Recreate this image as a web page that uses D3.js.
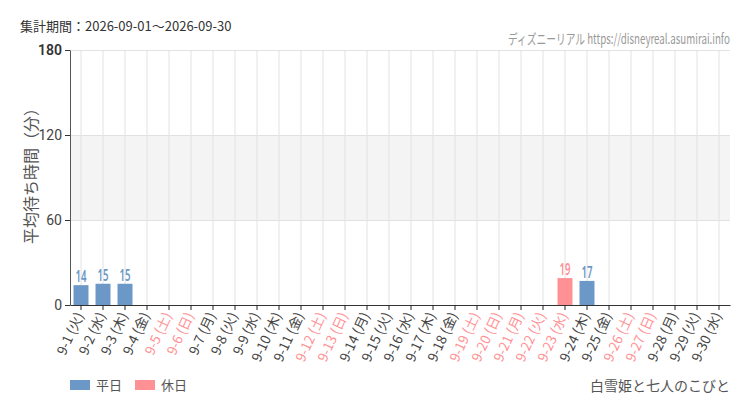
<!DOCTYPE html>
<html><head><meta charset="utf-8">
<script src="https://cdn.jsdelivr.net/npm/d3@7"></script>
<style>
body{margin:0;background:#fff;}
svg{display:block;font-family:"Noto Sans CJK JP","Noto Sans",sans-serif;}
</style></head>
<body><svg id="c" width="750" height="410"></svg>
<script>
const days = ["9-1 (火)","9-2 (水)","9-3 (木)","9-4 (金)","9-5 (土)","9-6 (日)","9-7 (月)","9-8 (火)","9-9 (水)","9-10 (木)","9-11 (金)","9-12 (土)","9-13 (日)","9-14 (月)","9-15 (火)","9-16 (水)","9-17 (木)","9-18 (金)","9-19 (土)","9-20 (日)","9-21 (月)","9-22 (火)","9-23 (水)","9-24 (木)","9-25 (金)","9-26 (土)","9-27 (日)","9-28 (月)","9-29 (火)","9-30 (水)"];
const holiday = [0,0,0,0,1,1,0,0,0,0,0,1,1,0,0,0,0,0,1,1,1,1,1,0,0,1,1,0,0,0];
const waits = [14,15,15,null,null,null,null,null,null,null,null,null,null,null,null,null,null,null,null,null,null,null,19,17,null,null,null,null,null,null];
const yTicks = [0,60,120,180];

const W_COLOR = "#6b98c6", H_COLOR = "#ff9194";
const svg = d3.select("#c");
const L = 70, R = 730, T = 50, B = 305;
const x = d3.scaleBand().domain(days).range([L, R]).paddingInner(0.32).paddingOuter(0.16);
const xc = d => x(d) + x.bandwidth()/2;
const y = d3.scaleLinear().domain([0,180]).range([B, T]);

function condense(sel, target){
  sel.each(function(){
    const len = this.getComputedTextLength();
    const s = target/len;
    const tx = +this.getAttribute("x"), ty = +this.getAttribute("y");
    d3.select(this).attr("transform", `translate(${tx},${ty}) scale(${s},1) translate(${-tx},${-ty})`);
  });
}

// band
svg.append("rect").attr("x", L).attr("y", y(120)).attr("width", R-L).attr("height", y(60)-y(120)).attr("fill", "#f4f4f4");
// vertical grid
svg.append("g").selectAll("line").data(days).join("line")
  .attr("x1", d=>xc(d)).attr("x2", d=>xc(d)).attr("y1", T).attr("y2", B)
  .attr("stroke", "#e2e2e2").attr("stroke-width", 1);
// horizontal grid
svg.append("g").selectAll("line").data(yTicks.filter(v=>v>0)).join("line")
  .attr("x1", L).attr("x2", R).attr("y1", d=>y(d)+0.5).attr("y2", d=>y(d)+0.5)
  .attr("stroke", "#e2e2e2");

// bars
const data = days.map((d,i)=>({d, v: waits[i], h: holiday[i]})).filter(o=>o.v!=null);
svg.append("g").selectAll("rect").data(data).join("rect")
  .attr("x", o=>x(o.d)).attr("width", x.bandwidth())
  .attr("y", o=>y(o.v)).attr("height", o=>B-y(o.v))
  .attr("fill", o=>o.h?H_COLOR:W_COLOR);
const vl = svg.append("g").selectAll("text").data(data).join("text")
  .attr("x", o=>xc(o.d)).attr("y", o=>y(o.v)-3)
  .attr("text-anchor","middle")
  .style("font-family","'Noto Sans',sans-serif")
  .style("font-size","16px").style("font-weight","600")
  .attr("fill", o=>o.h?H_COLOR:W_COLOR)
  .text(o=>o.v);
condense(vl, 11);

// y axis
const ya = svg.append("g").attr("transform", `translate(${L},0)`)
  .call(d3.axisLeft(y).tickValues(yTicks).tickSize(5).tickSizeOuter(0));
ya.select(".domain").attr("stroke","#555");
ya.selectAll(".tick line").attr("stroke","#333");
ya.selectAll("text").style("font-family","Roboto,'Noto Sans',sans-serif").style("font-size","14px").attr("fill","#444");
ya.selectAll(".tick").filter(d=>d===180).select("text").style("font-weight","600").attr("fill","#333");

// x axis
const xa = svg.append("g").attr("transform", `translate(0,${B})`)
  .call(d3.axisBottom(x).tickSize(5).tickSizeOuter(0));
xa.select(".domain").attr("stroke","#333");
xa.selectAll(".tick line").attr("stroke","#222");
xa.selectAll(".tick text")
  .style("font-family","'Noto Sans CJK JP',sans-serif").style("font-size","13.5px")
  .attr("fill", (d,i)=>holiday[i]?H_COLOR:"#444")
  .attr("text-anchor","end")
  .attr("dy","0.35em").attr("dx","0")
  .attr("transform","translate(-1,8) rotate(-65)")
  .attr("x",0).attr("y",0);

// y label
svg.append("text").attr("transform","translate(37,172) rotate(-90)")
  .attr("text-anchor","middle").style("font-size","16px").attr("fill","#555")
  .text("平均待ち時間（分）");

// title
svg.append("text").attr("x",20).attr("y",31).style("font-size","13px").attr("fill","#333")
  .text("集計期間：2026-09-01〜2026-09-30");
const site = svg.append("text").attr("x",508).attr("y",44).attr("text-anchor","start")
  .style("font-family","'Noto Sans CJK JP','Noto Sans',sans-serif")
  .style("font-size","14px").attr("fill","#999")
  .text("ディズニーリアル https://disneyreal.asumirai.info");
condense(site, 222);

// legend
const leg = [["平日",W_COLOR,70],["休日",H_COLOR,135]];
leg.forEach(([t,c,lx])=>{
  svg.append("rect").attr("x",lx).attr("y",380).attr("width",20).attr("height",10).attr("fill",c);
  svg.append("text").attr("x",lx+26).attr("y",390).style("font-size","13px").attr("fill","#555").text(t);
});
svg.append("text").attr("x",730).attr("y",391).attr("text-anchor","end").style("font-size","14px").attr("fill","#555")
  .text("白雪姫と七人のこびと");
</script></body></html>
